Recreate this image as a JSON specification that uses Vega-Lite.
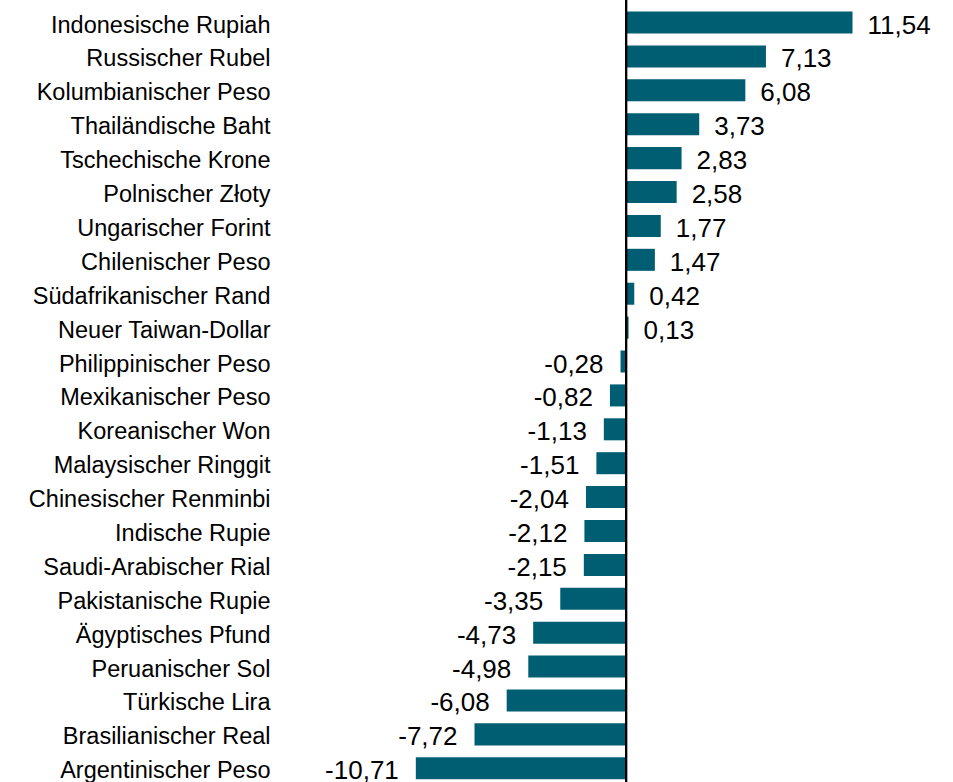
{
  "$schema": "https://vega.github.io/schema/vega-lite/v6.json",
  "width": 673,
  "height": 782,
  "autosize": "none",
  "padding": {"left": 280, "top": 0, "right": 0, "bottom": 0},
  "background": "white",
  "config": {
    "view": {"stroke": null},
    "font": "Liberation Sans",
    "locale": {
      "number": {"decimal": ",", "thousands": ".", "grouping": [3], "currency": ["", " €"], "minus": "-"}
    }
  },
  "data": {
    "values": [
      {"currency": "Indonesische Rupiah", "value": 11.54},
      {"currency": "Russischer Rubel", "value": 7.13},
      {"currency": "Kolumbianischer Peso", "value": 6.08},
      {"currency": "Thailändische Baht", "value": 3.73},
      {"currency": "Tschechische Krone", "value": 2.83},
      {"currency": "Polnischer Złoty", "value": 2.58},
      {"currency": "Ungarischer Forint", "value": 1.77},
      {"currency": "Chilenischer Peso", "value": 1.47},
      {"currency": "Südafrikanischer Rand\u00a0", "value": 0.42},
      {"currency": "Neuer Taiwan-Dollar", "value": 0.13},
      {"currency": "Philippinischer Peso", "value": -0.28},
      {"currency": "Mexikanischer Peso", "value": -0.82},
      {"currency": "Koreanischer Won", "value": -1.13},
      {"currency": "Malaysischer Ringgit", "value": -1.51},
      {"currency": "Chinesischer Renminbi", "value": -2.04},
      {"currency": "Indische Rupie", "value": -2.12},
      {"currency": "Saudi-Arabischer Rial", "value": -2.15},
      {"currency": "Pakistanische Rupie", "value": -3.35},
      {"currency": "Ägyptisches Pfund", "value": -4.73},
      {"currency": "Peruanischer Sol", "value": -4.98},
      {"currency": "Türkische Lira", "value": -6.08},
      {"currency": "Brasilianischer Real", "value": -7.72},
      {"currency": "Argentinischer Peso", "value": -10.71}
    ]
  },
  "layer": [
    {
      "mark": {"type": "bar", "color": "#005E73"},
      "encoding": {
        "y": {
          "field": "currency", "type": "nominal", "sort": null,
          "scale": {"paddingInner": 0.35, "paddingOuter": 0.21, "align": 0.81},
          "axis": {"title": null, "ticks": false, "domain": false, "labelPadding": 10, "labelOffset": 3, "labelFontSize": 23.5, "labelColor": "#000000", "labelLimit": 0, "labelFont": "Liberation Sans"}
        },
        "x": {"field": "value", "type": "quantitative", "scale": {"domain": [-17.63, 16.66], "nice": false, "zero": false}, "axis": null}
      }
    },
    {
      "mark": {"type": "rule", "color": "#000000", "strokeWidth": 2},
      "encoding": {"x": {"datum": 0, "type": "quantitative"}}
    },
    {
      "transform": [{"filter": "datum.value >= 0"}],
      "mark": {"type": "text", "align": "left", "baseline": "middle", "dx": 15, "dy": 3, "fontSize": 26, "color": "#000000"},
      "encoding": {
        "y": {"field": "currency", "type": "nominal", "sort": null},
        "x": {"field": "value", "type": "quantitative"},
        "text": {"field": "value", "type": "quantitative", "format": ".2f"}
      }
    },
    {
      "transform": [{"filter": "datum.value < 0"}],
      "mark": {"type": "text", "align": "right", "baseline": "middle", "dx": -17, "dy": 3, "fontSize": 26, "color": "#000000"},
      "encoding": {
        "y": {"field": "currency", "type": "nominal", "sort": null},
        "x": {"field": "value", "type": "quantitative"},
        "text": {"field": "value", "type": "quantitative", "format": ".2f"}
      }
    }
  ]
}
